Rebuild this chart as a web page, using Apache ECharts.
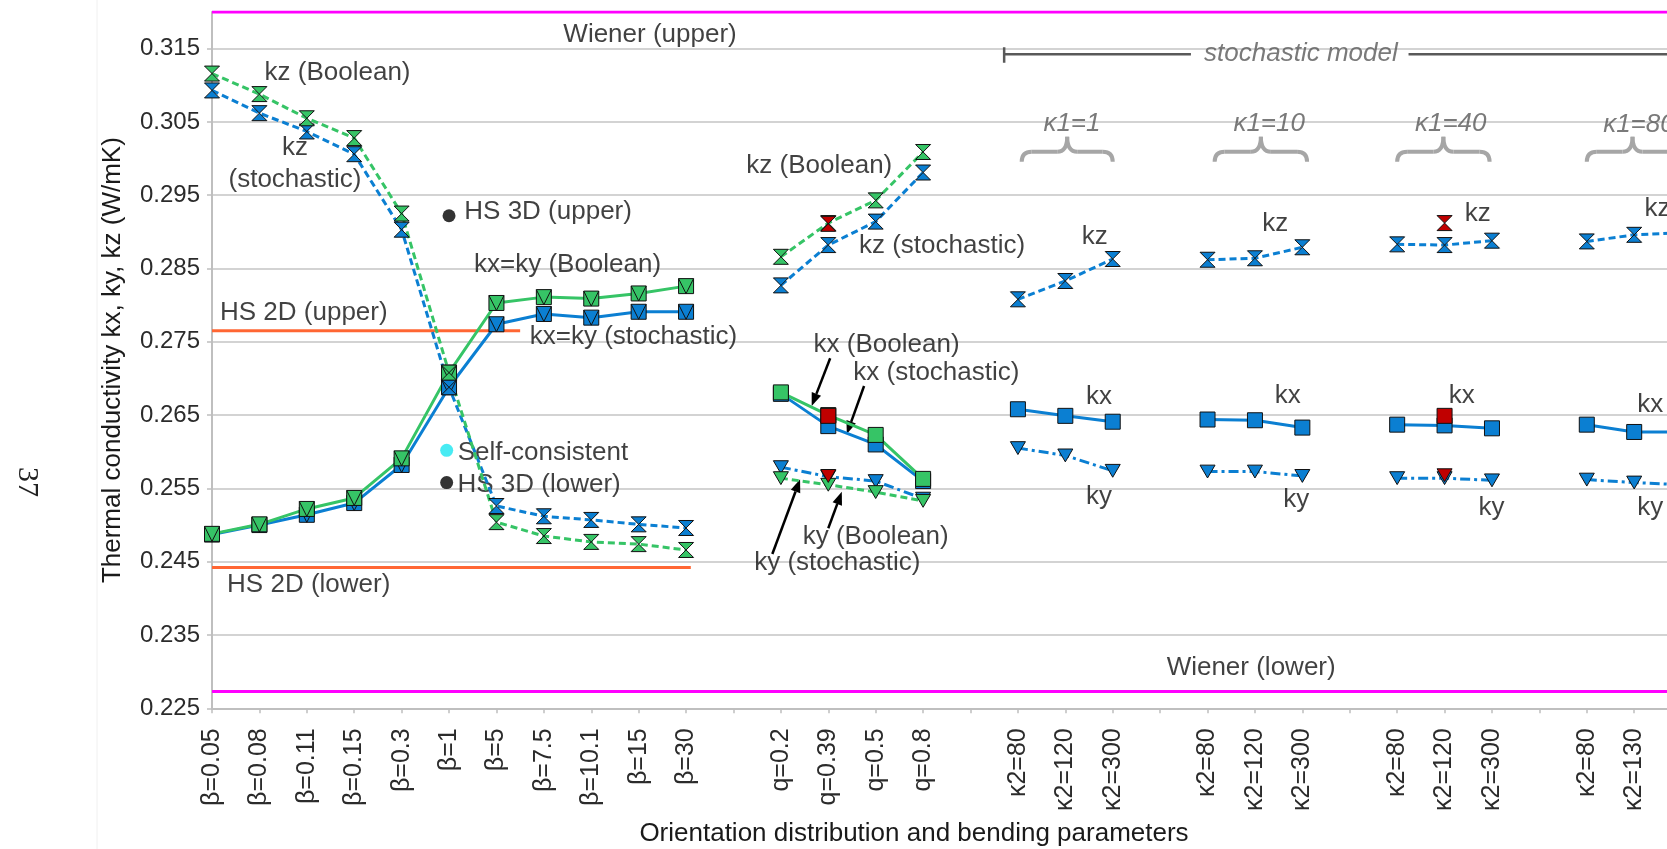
<!DOCTYPE html>
<html>
<head>
<meta charset="utf-8">
<title>Thermal conductivity vs orientation and bending parameters</title>
<script src="https://cdn.jsdelivr.net/npm/echarts@6/dist/echarts.min.js"></script>
<style>
  html, body { margin: 0; padding: 0; background: #fff; overflow: hidden; }
  /* the plot runs past the right edge of the picture, as in the cropped original */
  #chart { width: 1729px; height: 849px; }
</style>
</head>
<body>
<div id="chart"></div>
<script>
// category labels (blank entries are the gaps between groups)
const categories = [
  'β=0.05', 'β=0.08', 'β=0.11', 'β=0.15', 'β=0.3', 'β=1', 'β=5', 'β=7.5', 'β=10.1', 'β=15', 'β=30', '',
  'q=0.2', 'q=0.39', 'q=0.5', 'q=0.8', '',
  'κ2=80', 'κ2=120', 'κ2=300', '',
  'κ2=80', 'κ2=120', 'κ2=300', '',
  'κ2=80', 'κ2=120', 'κ2=300', '',
  'κ2=80', 'κ2=130', 'κ2=300', ''
];

// series values, one entry per category (null = no point)
const kzBoolean = [0.3116, 0.3088, 0.3055, 0.3028, 0.2925, 0.2708, 0.2504, 0.2485, 0.2477, 0.2474, 0.2466, null,
  0.2866, 0.2912, 0.2943, 0.3009];
const kzStochastic = [0.3093, 0.3062, 0.3037, 0.3006, 0.2903, 0.2688, 0.2526, 0.2512, 0.2507, 0.2501, 0.2496, null,
  0.2827, 0.2882, 0.2914, 0.2981, null,
  0.2808, 0.2833, 0.2863, null,
  0.2862, 0.2864, 0.2879, null,
  0.2883, 0.2882, 0.2888, null,
  0.2887, 0.2896, 0.2899];
const kxBoolean = [0.2488, 0.2501, 0.2522, 0.2537, 0.2591, 0.2708, 0.2803, 0.2811, 0.2809, 0.2816, 0.2826, null,
  0.2681, 0.2650, 0.2623, 0.2563];
const kxStochastic = [0.2487, 0.2500, 0.2514, 0.2530, 0.2582, 0.2688, 0.2774, 0.2788, 0.2783, 0.2791, 0.2791, null,
  0.2679, 0.2635, 0.2610, 0.2560, null,
  0.2658, 0.2649, 0.2641, null,
  0.2644, 0.2643, 0.2633, null,
  0.2637, 0.2636, 0.2632, null,
  0.2637, 0.2627, 0.2627];
const kyBoolean = [null, null, null, null, null, null, null, null, null, null, null, null,
  0.2564, 0.2555, 0.2545, 0.2533];
const kyStochastic = [null, null, null, null, null, null, null, null, null, null, null, null,
  0.2579, 0.2566, 0.2560, 0.2536, null,
  0.2605, 0.2595, 0.2574, null,
  0.2573, 0.2573, 0.2567, null,
  0.2564, 0.2564, 0.2561, null,
  0.2562, 0.2558, 0.2555];

// red (highlighted) points
const redKz = [null, null, null, null, null, null, null, null, null, null, null, null, null, 0.2911,
  null, null, null, null, null, null, null, null, null, null, null, null, 0.2912];
const redKx = [null, null, null, null, null, null, null, null, null, null, null, null, null, 0.2649,
  null, null, null, null, null, null, null, null, null, null, null, null, 0.2649];
const redKy = [null, null, null, null, null, null, null, null, null, null, null, null, null, 0.2567,
  null, null, null, null, null, null, null, null, null, null, null, null, 0.2568];

// single bounds at beta = 1 (x given as category index)
const hs3dUpper = [[5, 0.2922]];
const selfConsistent = [[4.95, 0.2602]];
const hs3dLower = [[4.95, 0.2558]];

// horizontal bounds [x from, x to, value]
const wienerUpper = [0, 33, 0.3200];
const wienerLower = [0, 33, 0.2273];
const hs2dUpper = [0, 6.5, 0.2765];
const hs2dLower = [0, 10.1, 0.2442];

// "stochastic model" bracket
const stochLeft = [16.71, 20.65, 0.31422];
const stochRight = [25.24, 34, 0.31422];
const stochTick = [16.71, 0.31308, 0.31518];

// curly braces [x from, x to, y ends, y peak]
const braces = [
  [17.08, 19.00, 0.29957, 0.30298],
  [21.15, 23.10, 0.29957, 0.30298],
  [25.00, 26.95, 0.29957, 0.30298],
  [29.00, 30.93, 0.29957, 0.30298]
];

// arrows [x1, y1, x2, y2] (head at the second point)
const arrows = [
  [13.04, 0.27275, 12.65, 0.26624],
  [13.755, 0.26897, 13.39, 0.26242],
  [13.00, 0.24956, 13.285, 0.25455],
  [11.82, 0.24605, 12.405, 0.25624]
];

// text annotations [text, x, y] (centre of the text)
const notes = [
  ['kz (Boolean)', 2.648, 0.3117],
  ['kz\n(stochastic)', 1.75, 0.2993],
  ['Wiener (upper)', 9.24, 0.3169],
  ['HS 3D (upper)', 7.09, 0.2927],
  ['kx=ky (Boolean)', 7.5, 0.2855],
  ['HS 2D (upper)', 1.937, 0.2790],
  ['kx=ky (stochastic)', 8.89, 0.2757],
  ['Self-consistent', 6.98, 0.2598],
  ['HS 3D (lower)', 6.90, 0.2555],
  ['HS 2D (lower)', 2.04, 0.2418],
  ['kz (Boolean)', 12.81, 0.2990],
  ['kz (stochastic)', 15.40, 0.2881],
  ['kx (Boolean)', 14.23, 0.27457],
  ['kx (stochastic)', 15.28, 0.27079],
  ['ky (Boolean)', 14.0, 0.24841],
  ['ky (stochastic)', 13.19, 0.24478],
  ['kz', 18.62, 0.2893], ['kx', 18.71, 0.26751], ['ky', 18.71, 0.25387],
  ['kz', 22.43, 0.29107], ['kx', 22.69, 0.2676], ['ky', 22.87, 0.25342],
  ['kz', 26.70, 0.29253], ['kx', 26.36, 0.2676], ['ky', 26.99, 0.25237],
  ['kz', 30.49, 0.29321], ['kx', 30.34, 0.26638], ['ky', 30.34, 0.25237],
  ['Wiener (lower)', 21.92, 0.2305]
];
const greyNotes = [
  ['κ1=1', 18.14, 0.3048],
  ['κ1=10', 22.30, 0.3048],
  ['κ1=40', 26.13, 0.3048],
  ['κ1=80', 30.10, 0.3046],
  ['stochastic model', 22.97, 0.31436]
];

const FONT = '"Liberation Sans", Arial, sans-serif';
const GREEN = '#36c466';
const BLUE = '#0b7fd2';
const RED = '#c00000';
const HOURGLASS = 'path://M0,0L14,0L0,14L14,14Z';
const SQUARE = 'path://M0,0L14,0L14,14L0,14Z';
const SQUARE_V = 'path://M0,0L14,0L14,14L0,14Z M14,0L7,14L0,0';
const TRI_DOWN = 'path://M0,0L14,0L7,12Z';

const chart = echarts.init(document.getElementById('chart'));

function dataLine(name, data, color, dash, symbol, size) {
  return {
    name, type: 'line', xAxisIndex: 0, yAxisIndex: 0, data,
    connectNulls: false, showAllSymbol: true, symbol, symbolSize: size, symbolKeepAspect: true,
    lineStyle: { color, width: 3, type: dash },
    itemStyle: { color, borderColor: '#111', borderWidth: 1 },
    emphasis: { disabled: true }
  };
}

function boundLine(b, color) {
  return {
    type: 'line', xAxisIndex: 1, yAxisIndex: 0, symbol: 'none', silent: true,
    data: [[b[0], b[2]], [b[1], b[2]]],
    lineStyle: { color, width: 3 }
  };
}

function renderBrace(params, api) {
  const x0 = api.value(0), x1 = api.value(1), yb = api.value(2), yt = api.value(3);
  const pL = api.coord([x0, yb]), pR = api.coord([x1, yb]), pT = api.coord([(x0 + x1) / 2, yt]);
  const ym = pL[1] - 0.4 * (pL[1] - pT[1]);
  const r = 10, xc = pT[0];
  const style = { stroke: '#a6a6a6', lineWidth: 4, fill: null };
  const curve = (sx, sy, cx, cy, ex, ey) => ({ type: 'bezierCurve', shape: { x1: sx, y1: sy, cpx1: cx, cpy1: cy, x2: ex, y2: ey }, style });
  const seg = (sx, sy, ex, ey) => ({ type: 'line', shape: { x1: sx, y1: sy, x2: ex, y2: ey }, style });
  return {
    type: 'group',
    children: [
      curve(pL[0], pL[1], pL[0], ym, pL[0] + r, ym),
      seg(pL[0] + r, ym, xc - r, ym),
      curve(xc - r, ym, xc, ym, xc, pT[1]),
      curve(xc, pT[1], xc, ym, xc + r, ym),
      seg(xc + r, ym, pR[0] - r, ym),
      curve(pR[0] - r, ym, pR[0], ym, pR[0], pR[1])
    ]
  };
}

function renderArrow(params, api) {
  const a = api.coord([api.value(0), api.value(1)]);
  const b = api.coord([api.value(2), api.value(3)]);
  const ang = Math.atan2(b[1] - a[1], b[0] - a[0]);
  const len = 13, half = 5;
  const bx = b[0] - len * Math.cos(ang), by = b[1] - len * Math.sin(ang);
  const nx = -Math.sin(ang) * half, ny = Math.cos(ang) * half;
  return {
    type: 'group',
    children: [
      { type: 'line', shape: { x1: a[0], y1: a[1], x2: bx, y2: by }, style: { stroke: '#000', lineWidth: 2.5 } },
      { type: 'polygon', shape: { points: [[b[0], b[1]], [bx + nx, by + ny], [bx - nx, by - ny]] }, style: { fill: '#000' } }
    ]
  };
}

function dots(data, color) {
  return {
    type: 'scatter', xAxisIndex: 1, yAxisIndex: 0, data, symbol: 'circle', symbolSize: 13,
    itemStyle: { color }, silent: true
  };
}

function redScatter(data, symbol, size) {
  return {
    type: 'line', xAxisIndex: 0, yAxisIndex: 0, data, showAllSymbol: true,
    symbol, symbolSize: size, symbolKeepAspect: true,
    lineStyle: { width: 0, opacity: 0 },
    itemStyle: { color: RED, borderColor: '#111', borderWidth: 1 }
  };
}

const option = {
  animation: false,
  backgroundColor: '#fff',
  grid: { left: 212, right: 0, top: 12, bottom: 140.7 },
  xAxis: [
    {
      type: 'category', data: categories, boundaryGap: false,
      axisLine: { lineStyle: { color: '#bfbfbf', width: 2 } },
      axisTick: { show: true, interval: 0, length: 5, lineStyle: { color: '#bfbfbf', width: 1.5 } },
      axisLabel: { interval: 0, rotate: 90, margin: 20, fontSize: 25, color: '#2b2b2b', fontFamily: FONT },
      splitLine: { show: false }
    },
    { type: 'value', min: 0, max: 32, show: false, splitLine: { show: false } }
  ],
  yAxis: {
    type: 'value', min: 0.225, max: 0.32, interval: 0.01,
    name: 'Thermal conductivity kx, ky, kz (W/mK)',
    nameLocation: 'middle', nameGap: 86,
    nameTextStyle: { fontSize: 26, color: '#1a1a1a', fontFamily: FONT },
    axisLine: { show: true, lineStyle: { color: '#bfbfbf', width: 2 } },
    axisTick: { show: true, length: 5, lineStyle: { color: '#bfbfbf', width: 1.5 } },
    axisLabel: {
      fontSize: 24, color: '#2b2b2b', fontFamily: FONT, margin: 12, showMaxLabel: false,
      formatter: v => v.toFixed(3)
    },
    splitLine: { lineStyle: { color: '#c4c4c4', width: 1.5 } }
  },
  graphic: [
    { type: 'line', shape: { x1: 97, y1: 0, x2: 97, y2: 849 }, style: { stroke: '#f0f0f0', lineWidth: 1 }, silent: true },
    {
      type: 'text', x: 27, y: 482, rotation: -Math.PI / 2,
      style: { text: '37', font: '30px "Liberation Serif", serif', fill: '#222', textAlign: 'center', textVerticalAlign: 'middle' }
    },
    {
      type: 'text', x: 914, y: 834,
      style: { text: 'Orientation distribution and bending parameters', font: '26px ' + FONT, fill: '#1a1a1a', textAlign: 'center', textVerticalAlign: 'middle' }
    }
  ],
  series: [
    boundLine(wienerUpper, '#ff00ff'),
    boundLine(wienerLower, '#ff00ff'),
    boundLine(hs2dUpper, '#ff6633'),
    boundLine(hs2dLower, '#ff6633'),
    {
      type: 'line', xAxisIndex: 1, yAxisIndex: 0, symbol: 'none', silent: true,
      data: [[stochLeft[0], stochLeft[2]], [stochLeft[1], stochLeft[2]]],
      lineStyle: { color: '#595959', width: 2.5 }
    },
    {
      type: 'line', xAxisIndex: 1, yAxisIndex: 0, symbol: 'none', silent: true,
      data: [[stochRight[0], stochRight[2]], [stochRight[1], stochRight[2]]],
      lineStyle: { color: '#595959', width: 2.5 }
    },
    {
      type: 'line', xAxisIndex: 1, yAxisIndex: 0, symbol: 'none', silent: true,
      data: [[stochTick[0], stochTick[1]], [stochTick[0], stochTick[2]]],
      lineStyle: { color: '#595959', width: 2.5 }
    },
    {
      type: 'custom', xAxisIndex: 1, yAxisIndex: 0, data: braces, renderItem: renderBrace,
      encode: { x: [0, 1], y: [2, 3] }, silent: true, clip: false
    },
    dataLine('kx stochastic', kxStochastic, BLUE, 'solid', (v, p) => (p.dataIndex <= 10 ? SQUARE_V : SQUARE), 15),
    dataLine('kx Boolean', kxBoolean, GREEN, 'solid', (v, p) => (p.dataIndex <= 10 ? SQUARE_V : SQUARE), 15),
    dataLine('ky stochastic', kyStochastic, BLUE, [10, 4, 3, 4], TRI_DOWN, 15),
    dataLine('ky Boolean', kyBoolean, GREEN, [7, 4], TRI_DOWN, 15),
    dataLine('kz stochastic', kzStochastic, BLUE, [7, 4], HOURGLASS, 15),
    dataLine('kz Boolean', kzBoolean, GREEN, [7, 4], HOURGLASS, 15),
    redScatter(redKx, SQUARE, 15),
    redScatter(redKy, TRI_DOWN, 15),
    redScatter(redKz, HOURGLASS, 15),
    dots(hs3dUpper, '#000'),
    dots(selfConsistent, '#1ae6f0'),
    dots(hs3dLower, '#000'),
    {
      type: 'custom', xAxisIndex: 1, yAxisIndex: 0, data: arrows, renderItem: renderArrow,
      encode: { x: [0, 2], y: [1, 3] }, silent: true
    },
    {
      type: 'scatter', xAxisIndex: 1, yAxisIndex: 0, symbolSize: 1, silent: true,
      itemStyle: { color: 'transparent' },
      data: notes.map(n => ({ name: n[0], value: [n[1], n[2]] })),
      label: {
        show: true, position: 'inside', formatter: p => p.name,
        fontSize: 26, color: '#111', fontFamily: FONT, lineHeight: 32, align: 'center'
      }
    },
    {
      type: 'scatter', xAxisIndex: 1, yAxisIndex: 0, symbolSize: 1, silent: true,
      itemStyle: { color: 'transparent' },
      data: greyNotes.map(n => ({ name: n[0], value: [n[1], n[2]] })),
      label: {
        show: true, position: 'inside', formatter: p => p.name,
        fontSize: 26, fontStyle: 'italic', color: '#595959', fontFamily: FONT
      }
    }
  ]
};

chart.setOption(option);
</script>
</body>
</html>
